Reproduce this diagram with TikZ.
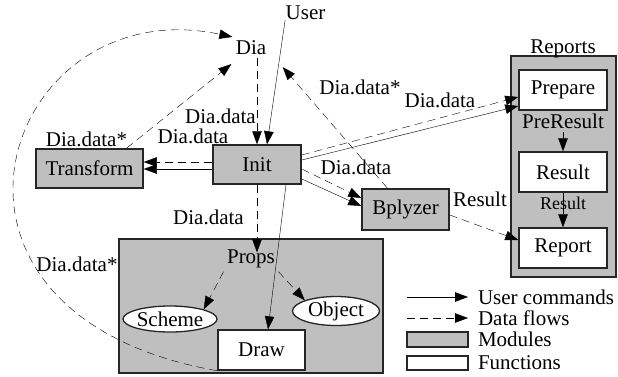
\documentclass[tikz,border=0pt]{standalone}
\usepackage{fontspec}
\setmainfont{Liberation Serif}
\usepackage{tikz}
\usetikzlibrary{positioning, arrows.meta, shapes.geometric}
\tikzset{
	x = 1pt,
	y = 1pt,
	line width = 1.3pt,
	>={Triangle[length=13pt,width=9.5pt]},
	font = \fontsize{21}{24}\selectfont,
	module/.style={
		draw=black!85,
		fill=black!25,
		line width=1.5pt,
		minimum height=40pt,
		inner sep=0pt
	},
	func/.style={
		draw=black!85,
		fill=white,
		line width=1.5pt,
		minimum width=88pt,
		minimum height=40pt,
		inner sep=0pt
	},
	blob/.style={
		ellipse,
		draw=black!85,
		fill=white,
		line width=1.3pt,
		minimum width=87pt,
		minimum height=26pt,
		inner sep=0pt
	},
	cmd/.style={
		->
	},
	flow/.style={
		->,
		dash pattern=on 8pt off 5pt
	},
	small/.style={
		font=\fontsize{18}{20}\selectfont
	}
}

\begin{document}
\begin{tikzpicture}
\useasboundingbox (0,0) rectangle (618,-376);

% ---
% Modules and functions
% ---
\node[module, minimum width=264pt, minimum height=134pt] (propsbox) at (251,-306) {};
\node[module, minimum width=105pt, minimum height=221pt] (reports) at (563.5,-166.5) {};
\node (reportslabel) at (563,-49) {Reports};
\node[module, minimum width=88pt, minimum height=39pt] (init) at (257,-164.5) {Init};
\node[module, minimum width=107pt, minimum height=39pt] (transform) at (89.5,-168.5) {Transform};
\node[module, minimum width=87pt, minimum height=41pt] (bplyzer) at (405.5,-209.5) {Bplyzer};
\node (user) at (305.5,-12.5) {User};
\node (dia) at (251,-47.5) {Dia};
\node[func] (prepare) at (563,-90) {Prepare};
\node (preres) at (563,-121.5) {PreResult};
\node[func] (result) at (563,-172) {Result};
\node[func] (report) at (563,-248) {Report};
\node (props) at (251,-259) {Props};
\node[blob] (scheme) at (170,-319) {Scheme};
\node[blob, minimum height=29pt] (object) at (336,-311) {Object};
\node[func, minimum width=87pt] (drw) at (261.5,-350) {Draw};

% ---
% Labels
% ---
\node (dia-l1) at (220.5,-116) {Dia.data};
\node (dia-l2) at (193,-136) {Dia.data};
\node (dia-l3) at (86.5,-139.5) {Dia.data*};
\node (dia-l4) at (360,-87.5) {Dia.data*};
\node (dia-l5) at (440,-100) {Dia.data};
\node (dia-l6) at (356,-167) {Dia.data};
\node (dia-l7) at (208.5,-217) {Dia.data};
\node (dia-l8) at (77,-264.5) {Dia.data*};
\node (res-l) at (480,-199) {Result};

% ---
% User commands
% ---
\draw[cmd] ([xshift=3pt,yshift=3pt]user.south west) -- ([xshift=10pt]init.north);
\draw[cmd] ([yshift=-4.5pt]init.west) -- ([yshift=-4.5pt]init.west -| transform.east);
\draw[cmd] ([yshift=4.5pt]init.east) -- ([yshift=-16pt]prepare.west);
\draw[cmd] ([yshift=-14.5pt]init.east) -- ([yshift=3.5pt]bplyzer.west);
\draw[cmd] ([xshift=29pt]init.south) -- ([xshift=6.5pt]drw.north);
\draw[cmd] (preres) -- (result);
\draw[cmd] (result) -- (report) node[small, pos=0.32] (res-small) {Result};

% ---
% Data flows
% ---
\draw[flow] (init.north |- dia.south) -- (init.north);
\draw[flow] ([yshift=2.5pt]init.west) -- ([yshift=2.5pt]init.west -| transform.east);
\draw[flow] ([xshift=37pt]transform.north) -- ([xshift=-1pt,yshift=-6pt]dia.south west);
\draw[flow] (drw.south west) .. controls +(170:330) and +(168:235) .. (dia.north west);
\draw[flow] ([xshift=-18pt]bplyzer.north) -- ([xshift=13pt,yshift=-9pt]dia.south east);
\draw[flow] ([yshift=9.5pt]init.east) -- ([yshift=-7pt]prepare.west);
\draw[flow] ([yshift=-4.5pt]init.east) -- ([yshift=11.5pt]bplyzer.west);
\draw[flow] ([yshift=-5.5pt]bplyzer.east) -- ([yshift=8pt]report.west);
\draw[flow, shorten >=-6pt] (init.south) -- (init.south |- props.north);
\draw[flow] (props.south west) -- (scheme.north east);
\draw[flow] (props.south east) -- (object.north west);

% ---
% Legend
% ---
\coordinate (lg-cmd) at (407,-297);
\coordinate (lg-cmd-end) at (468,-297);
\coordinate (lg-flow) at (407,-318);
\coordinate (lg-flow-end) at (468,-318);
\draw[cmd] (lg-cmd) -- (lg-cmd-end);
\draw[flow] (lg-flow) -- (lg-flow-end);
\node[module, minimum width=61pt, minimum height=15pt] (lg-mod) at (437.5,-339.5) {};
\node[func, minimum width=61pt, minimum height=14pt] (lg-func) at (437.5,-363) {};
\node[anchor=west] (lg-cmd-text) at (474.5,-297.5) {User commands};
\node[anchor=west] (lg-flow-text) at (474.5,-318) {Data flows};
\node[anchor=west] (lg-mod-text) at (474.5,-339.5) {Modules};
\node[anchor=west] (lg-func-text) at (474.5,-362.5) {Functions};
\end{tikzpicture}
\end{document}
